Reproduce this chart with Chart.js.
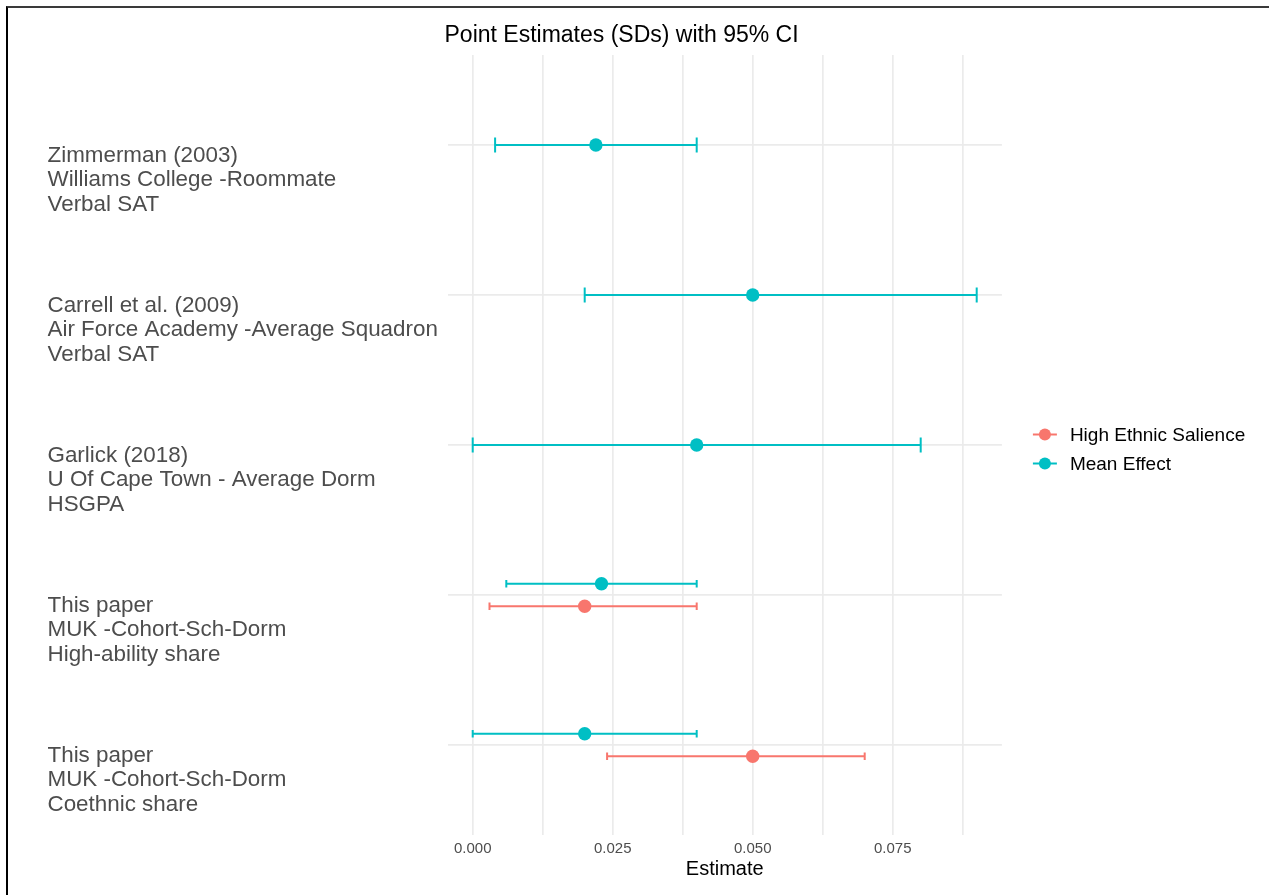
<!DOCTYPE html>
<html>
<head>
<meta charset="utf-8">
<script src="https://cdn.jsdelivr.net/npm/chart.js@4/dist/chart.umd.min.js"></script>
<style>
html,body{margin:0;padding:0;background:#fff;width:1269px;height:895px;overflow:hidden}
#frame{position:absolute;left:6px;top:6px;width:1300px;height:900px;border-top:2px solid #3a3a3a;border-left:2px solid #000;box-sizing:border-box}
#wrap{position:absolute;left:0;top:0;width:1269px;height:895px}
canvas{display:block}
</style>
</head>
<body>
<div id="frame"></div>
<div id="wrap"><canvas id="c" width="1269" height="895"></canvas></div>
<script>
// ---- data ----
const categories = [
  ["Zimmerman (2003)", "Williams College -Roommate", "Verbal SAT"],
  ["Carrell et al. (2009)", "Air Force Academy -Average Squadron", "Verbal SAT"],
  ["Garlick (2018)", "U Of Cape Town - Average Dorm", "HSGPA"],
  ["This paper", "MUK -Cohort-Sch-Dorm", "High-ability share"],
  ["This paper", "MUK -Cohort-Sch-Dorm", "Coethnic share"]
];
const meanEstimate = [0.022, 0.050, 0.040, 0.023, 0.020];
const meanLower    = [0.004, 0.020, 0.000, 0.006, 0.000];
const meanUpper    = [0.040, 0.090, 0.080, 0.040, 0.040];
const highEstimate = [null, null, null, 0.020, 0.050];
const highLower    = [null, null, null, 0.003, 0.024];
const highUpper    = [null, null, null, 0.040, 0.070];
const xTickValues  = [0, 0.0125, 0.025, 0.0375, 0.05, 0.0625, 0.075, 0.0875];
const xTickLabels  = ["0.000", "", "0.025", "", "0.050", "", "0.075", ""];
const seriesNames  = ["High Ethnic Salience", "Mean Effect"];
const seriesColors = ["#F8766D", "#00BFC4"];

// ---- build ----
const FONT = "'Liberation Sans', Arial, Helvetica, sans-serif";
const n = categories.length;
const hasBoth = highEstimate.map(v => v !== null);
const dodge = 0.075;
function yPos(i, grp) {
  const base = n - i;
  if (!hasBoth[i]) return base;
  return grp === 'mean' ? base + dodge : base - dodge;
}
const meanData = meanEstimate.map((v, i) => ({x: v, y: yPos(i, 'mean'), lo: meanLower[i], hi: meanUpper[i], cap: hasBoth[i] ? 0.025 : 0.05}));
const highData = [];
highEstimate.forEach((v, i) => { if (v !== null) highData.push({x: v, y: yPos(i, 'high'), lo: highLower[i], hi: highUpper[i], cap: 0.025}); });

const errorBars = {
  id: 'errorBars',
  beforeDatasetsDraw(chart) {
    const {ctx, scales: {x, y}} = chart;
    chart.data.datasets.forEach(ds => {
      ctx.save();
      ctx.strokeStyle = ds.backgroundColor;
      ctx.lineWidth = 2;
      ds.data.forEach(p => {
        const yp = y.getPixelForValue(p.y);
        const x0 = x.getPixelForValue(p.lo), x1 = x.getPixelForValue(p.hi);
        const h = Math.abs(y.getPixelForValue(p.y + p.cap) - yp);
        ctx.beginPath();
        ctx.moveTo(x0, yp); ctx.lineTo(x1, yp);
        ctx.moveTo(x0, yp - h); ctx.lineTo(x0, yp + h);
        ctx.moveTo(x1, yp - h); ctx.lineTo(x1, yp + h);
        ctx.stroke();
      });
      ctx.restore();
    });
  }
};

const titleAndLegend = {
  id: 'titleAndLegend',
  afterDraw(chart) {
    const {ctx, chartArea} = chart;
    ctx.save();
    ctx.fillStyle = '#000';
    ctx.font = '23px ' + FONT;
    ctx.textAlign = 'left';
    ctx.textBaseline = 'alphabetic';
    ctx.fillText('Point Estimates (SDs) with 95% CI', chartArea.left - 3, 42);
    // legend
    const cy = (chartArea.top + chartArea.bottom) / 2;
    const offs = [-10.5, 18.5];
    const lx = chartArea.right + 31;
    chart.data.datasets.forEach((ds, k) => {
      const yy = cy + offs[k];
      ctx.strokeStyle = ds.backgroundColor;
      ctx.fillStyle = ds.backgroundColor;
      ctx.lineWidth = 2;
      ctx.beginPath(); ctx.moveTo(lx, yy); ctx.lineTo(lx + 24, yy); ctx.stroke();
      ctx.beginPath(); ctx.arc(lx + 12, yy, 6, 0, Math.PI * 2); ctx.fill();
      ctx.fillStyle = '#000';
      ctx.font = '19px ' + FONT;
      ctx.textBaseline = 'middle';
      ctx.fillText(ds.label, lx + 37, yy + 1);
    });
    ctx.restore();
  }
};

new Chart(document.getElementById('c'), {
  type: 'scatter',
  data: {
    datasets: [
      {label: seriesNames[0], data: highData, backgroundColor: seriesColors[0], borderColor: seriesColors[0], pointRadius: 6.7, pointHoverRadius: 6.7, borderWidth: 0},
      {label: seriesNames[1], data: meanData, backgroundColor: seriesColors[1], borderColor: seriesColors[1], pointRadius: 6.7, pointHoverRadius: 6.7, borderWidth: 0}
    ]
  },
  options: {
    responsive: false,
    animation: false,
    devicePixelRatio: 1,
    layout: {padding: {left: 47.5, right: 267.1, top: 55, bottom: 0}},
    plugins: {legend: {display: false}, tooltip: {enabled: false}, title: {display: false}},
    scales: {
      x: {
        type: 'linear', min: -0.0045, max: 0.0945,
        afterBuildTicks: s => { s.ticks = xTickValues.map(v => ({value: v})); },
        afterFit: s => { s.height = 60; },
        grid: {color: '#EBEBEB', lineWidth: 1.7, drawTicks: false},
        border: {display: false},
        ticks: {autoSkip: false, maxRotation: 0, callback: (v, i) => xTickLabels[i], color: '#4D4D4D', font: {family: FONT, size: 15}, padding: 5},
        title: {display: true, text: 'Estimate', color: '#000', font: {family: FONT, size: 20}, padding: {top: 0, bottom: 14}}
      },
      y: {
        type: 'linear', min: 0.4, max: 5.6,
        afterBuildTicks: s => { s.ticks = categories.map((c, i) => ({value: n - i})); },
        afterFit: s => { s.width = 400; },
        grid: {color: '#EBEBEB', lineWidth: 1.7, drawTicks: false},
        border: {display: false},
        ticks: {autoSkip: false, callback: (v) => categories[n - v], crossAlign: 'far', labelOffset: 35, padding: 0, color: '#4D4D4D', font: {family: FONT, size: 22.4, lineHeight: 1.094}}
      }
    }
  },
  plugins: [errorBars, titleAndLegend]
});
</script>
</body>
</html>
